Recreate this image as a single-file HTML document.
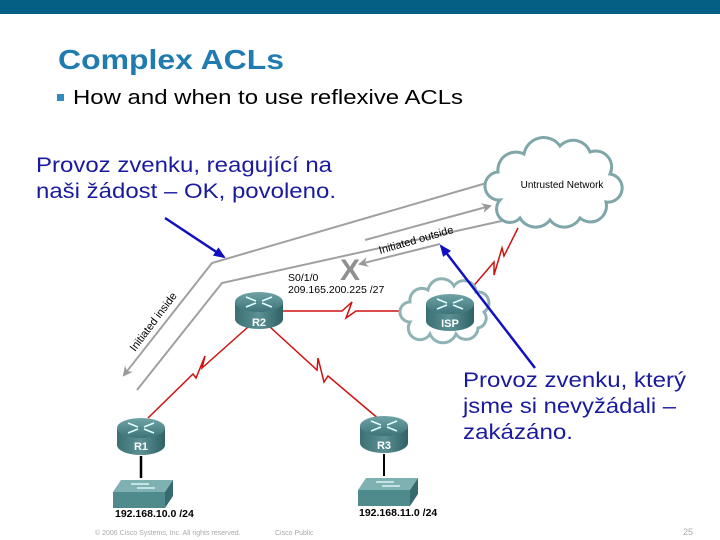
<!DOCTYPE html>
<html><head><meta charset="utf-8"><style>
html,body{margin:0;padding:0;background:#fff}
svg{display:block}
text{font-family:"Liberation Sans",Arial,sans-serif}
</style></head><body>
<svg width="720" height="540" viewBox="0 0 720 540" xmlns="http://www.w3.org/2000/svg">
<defs>
<linearGradient id="rt" x1="0" y1="0" x2="0" y2="1"><stop offset="0" stop-color="#6fa3a6"/><stop offset="1" stop-color="#3d7479"/></linearGradient>
<linearGradient id="rb" x1="0" y1="0" x2="1" y2="0"><stop offset="0" stop-color="#3b6f74"/><stop offset="0.5" stop-color="#5b9194"/><stop offset="1" stop-color="#2f6165"/></linearGradient>
<g id="router">
<path d="M-24,0 L-24,17 A24,10 0 0 0 24,17 L24,0 Z" fill="url(#rb)"/>
<ellipse cx="0" cy="0" rx="24" ry="10" fill="url(#rt)"/>
<g stroke="#dff" stroke-width="1.6" fill="none">
<path d="M-13,-5 L-3,-1 M13,-5 L3,-1 M-13,5 L-3,1 M13,5 L3,1"/>
</g>
</g>
<g id="switch">
<path d="M-22,-8 L30,-8 L22,4 L-30,4 Z" fill="#7fb1b3"/>
<path d="M-30,4 L22,4 L22,20 L-30,20 Z" fill="#4f8a8d"/>
<path d="M22,4 L30,-8 L30,8 L22,20 Z" fill="#356b6f"/>
<path d="M-12,-4 L6,-4 M-6,0 L12,0" stroke="#eff" stroke-width="1.2"/>
</g>
<marker id="ga" markerWidth="10" markerHeight="10" refX="8" refY="5" orient="auto" markerUnits="userSpaceOnUse"><path d="M0,0 L10,5 L0,10 L3,5 Z" fill="#999"/></marker>
<marker id="ba" markerWidth="12" markerHeight="12" refX="10" refY="6" orient="auto" markerUnits="userSpaceOnUse"><path d="M0,1 L12,6 L0,11 Z" fill="#1010c0"/></marker>
</defs>
<rect x="0" y="0" width="720" height="14" fill="#055e84"/>
<text x="58" y="69" font-size="28" font-weight="bold" fill="#1f7bb0" textLength="226" lengthAdjust="spacingAndGlyphs">Complex ACLs</text>
<rect x="57" y="94" width="7" height="7" fill="#2f8bc0"/>
<text x="73" y="104" font-size="20" fill="#000" textLength="390" lengthAdjust="spacingAndGlyphs">How and when to use reflexive ACLs</text>

<g stroke="#a0a0a0" stroke-width="2" fill="none">
<path d="M490,182 L212,263 L124,375" marker-end="url(#ga)"/>
<path d="M515,218 L222,283 L137,390"/>
<path d="M365,240 L490,206" marker-end="url(#ga)"/>
<path d="M440,244 L360,264" marker-end="url(#ga)"/>
</g>
<text x="340" y="280" font-size="30" font-weight="bold" fill="#909090">X</text>
<text transform="translate(380,254) rotate(-16)" font-size="11" fill="#000">Initiated outside</text>
<text transform="translate(135,352) rotate(-53)" font-size="11" fill="#000">Initiated inside</text>

<g stroke="#d01010" stroke-width="1.5" fill="none">
<path d="M280,311 L342,311 L352,302 L346,318 L356,311 L402,311"/>
<path d="M248,327 L202,368 L205,356 L196,378 L193,374 L148,418"/>
<path d="M270,327 L317,370 L318,358 L324,382 L328,376 L380,420"/>
<path d="M470,290 L494,262 L494,275 L502,248 L504,256 L518,228"/>
</g>
<line x1="141" y1="456" x2="141" y2="478" stroke="#000" stroke-width="2.5"/>
<line x1="384" y1="454" x2="384" y2="476" stroke="#000" stroke-width="2"/>

<path d="M500,200 a14,14 0 0 1 -2,-28 a18,18 0 0 1 26,-18 a20,20 0 0 1 36,-8 a18,18 0 0 1 30,6 a16,16 0 0 1 20,22 a14,14 0 0 1 -4,28 a16,16 0 0 1 -26,16 a18,18 0 0 1 -30,2 a18,18 0 0 1 -30,-2 a12,12 0 0 1 -20,-18 Z" fill="#fff" stroke="#7fa6a8" stroke-width="3"/>
<text x="562" y="188" font-size="10" text-anchor="middle" fill="#000">Untrusted Network</text>

<path d="M410,322 a10,10 0 0 1 0,-20 a12,12 0 0 1 18,-12 a14,14 0 0 1 26,-4 a12,12 0 0 1 22,6 a11,11 0 0 1 8,20 a10,10 0 0 1 -6,16 a12,12 0 0 1 -22,6 a14,14 0 0 1 -26,0 a10,10 0 0 1 -20,-12 Z" fill="#fff" stroke="#8fb3b5" stroke-width="3"/>

<use href="#router" x="259" y="302"/>
<text x="259" y="326" font-size="11" font-weight="bold" fill="#fff" text-anchor="middle">R2</text>
<use href="#router" x="450" y="304"/>
<text x="450" y="327" font-size="11" font-weight="bold" fill="#fff" text-anchor="middle">ISP</text>
<use href="#router" x="141" y="428"/>
<text x="141" y="450" font-size="11" font-weight="bold" fill="#fff" text-anchor="middle">R1</text>
<use href="#router" x="384" y="426"/>
<text x="384" y="449" font-size="11" font-weight="bold" fill="#fff" text-anchor="middle">R3</text>
<use href="#switch" x="143" y="488"/>
<use href="#switch" x="388" y="486"/>

<text x="288" y="281" font-size="10.5" fill="#000">S0/1/0</text>
<text x="288" y="293" font-size="10.5" fill="#000">209.165.200.225 /27</text>
<text x="115" y="517" font-size="10.5" font-weight="bold" fill="#000">192.168.10.0 /24</text>
<text x="359" y="516" font-size="10.5" font-weight="bold" fill="#000">192.168.11.0 /24</text>

<g font-size="21" fill="#1a1aa0">
<text x="36" y="172" textLength="296" lengthAdjust="spacingAndGlyphs">Provoz zvenku, reagující na</text>
<text x="36" y="198" textLength="300" lengthAdjust="spacingAndGlyphs">naši žádost – OK, povoleno.</text>
<text x="463" y="387" textLength="223" lengthAdjust="spacingAndGlyphs">Provoz zvenku, který</text>
<text x="463" y="413" textLength="213" lengthAdjust="spacingAndGlyphs">jsme si nevyžádali –</text>
<text x="463" y="439" textLength="110" lengthAdjust="spacingAndGlyphs">zakázáno.</text>
</g>
<g stroke="#1010c0" stroke-width="2.5" fill="none">
<line x1="165" y1="218" x2="224" y2="257" marker-end="url(#ba)"/>
<line x1="535" y1="368" x2="441" y2="246" marker-end="url(#ba)"/>
</g>

<text x="95" y="535" font-size="7" fill="#aaa">© 2006 Cisco Systems, Inc. All rights reserved.</text>
<text x="275" y="535" font-size="7" fill="#aaa">Cisco Public</text>
<text x="683" y="535" font-size="9" fill="#aaa">25</text>
</svg>
</body></html>
